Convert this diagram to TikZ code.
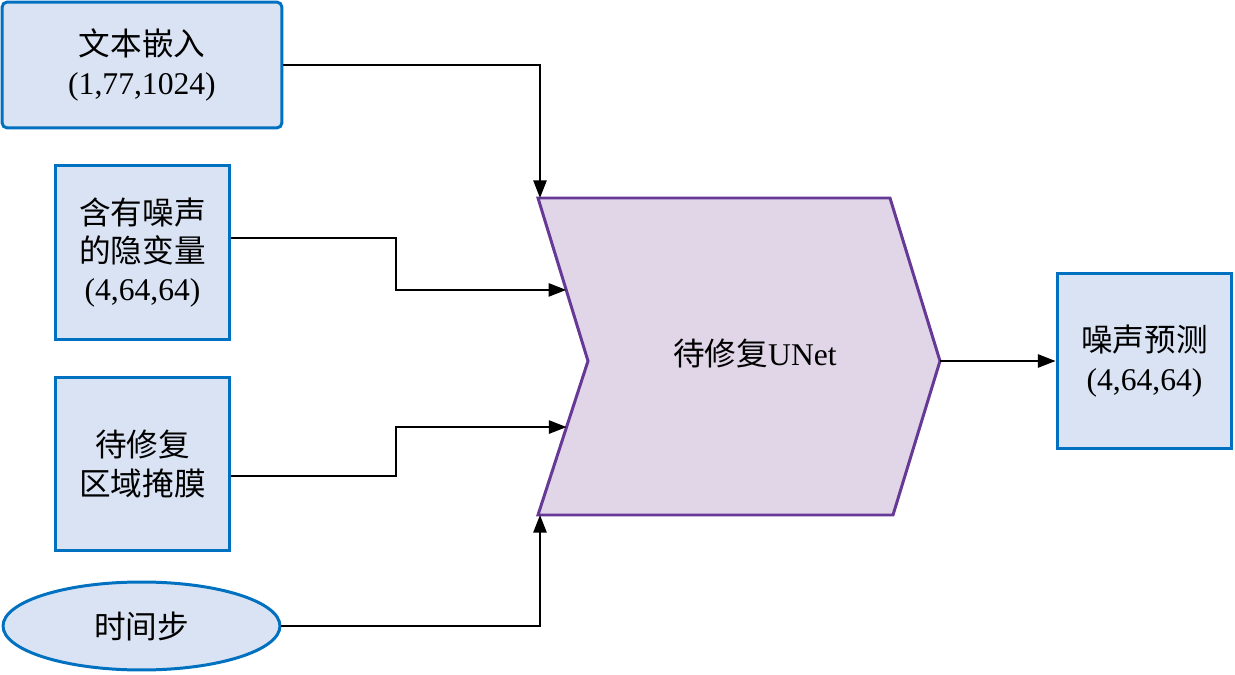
\documentclass[tikz,border=0pt]{standalone}
\usepackage{fontspec}
\setmainfont{Liberation Serif}
\newfontfamily\cjk{Noto Sans CJK SC}
\usetikzlibrary{arrows.meta,shapes.geometric,calc}
\definecolor{boxfill}{RGB}{218,227,243}
\definecolor{boxline}{RGB}{0,112,192}
\definecolor{unetfill}{RGB}{224,214,232}
\definecolor{unetline}{RGB}{102,57,150}
\tikzset{
  inbox/.style={draw=boxline, fill=boxfill, line width=1.7pt, inner sep=0pt, align=center,
    font=\fontsize{18}{21.8}\selectfont},
  conn/.style={draw=black, line width=1.1pt, -{Triangle[length=10pt,width=7.5pt]}},
  lbl/.style={align=center, font=\fontsize{18}{21.8}\selectfont},
}
\begin{document}
\begin{tikzpicture}[x=0.02cm,y=-0.02cm]
\useasboundingbox (0,0) rectangle (1235,675);
% input boxes
\node[inbox, rounded corners=3pt, minimum width=5.6cm, minimum height=2.52cm] (emb) at (142,65)
  {{\cjk 文本嵌入}\\(1,77,1024)};
\node[inbox, minimum width=3.5cm, minimum height=3.5cm] (lat) at (142.5,252.5)
  {{\cjk 含有噪声}\\{\cjk 的隐变量}\\(4,64,64)};
\node[inbox, minimum width=3.5cm, minimum height=3.48cm] (mask) at (142.5,464)
  {{\cjk 待修复}\\{\cjk 区域掩膜}};
\node[inbox, ellipse, minimum width=5.54cm, minimum height=1.76cm] (ts) at (141.5,626)
  {{\cjk 时间步}};
\node[inbox, minimum width=3.5cm, minimum height=3.52cm] (out) at (1144.5,361)
  {{\cjk 噪声预测}\\(4,64,64)};
% UNet chevron
\coordinate (TL) at (538,198);
\coordinate (TR) at (890,198);
\coordinate (TIP) at (940,361);
\coordinate (BR) at (893,515);
\coordinate (BL) at (538,515);
\coordinate (NOTCH) at (588,361);
\draw[draw=unetline, fill=unetfill, line width=1.7pt, line join=miter]
  (TL) -- (TR) -- (TIP) -- (BR) -- (BL) -- (NOTCH) -- cycle;
\node[lbl] (unet) at (755,353) {{\cjk 待修复}UNet};
\coordinate (in1) at ($(TL)!0.564!(NOTCH)$);
\coordinate (in2) at ($(NOTCH)!0.429!(BL)$);
\coordinate (topin) at (540,198);
\coordinate (botin) at (540,515);
\coordinate (latout) at ($(lat.east)+(0,-14.5)$);
\coordinate (maskout) at ($(mask.east)+(0,12)$);
% connectors
\draw[conn] (emb.east) -| (topin);
\draw[conn] (latout) -- (396,238) |- (in1);
\draw[conn] (maskout) -- (396,476) |- (in2);
\draw[conn] (ts.east) -| (botin);
\draw[conn] (TIP) -- (out.west);
\end{tikzpicture}
\end{document}
